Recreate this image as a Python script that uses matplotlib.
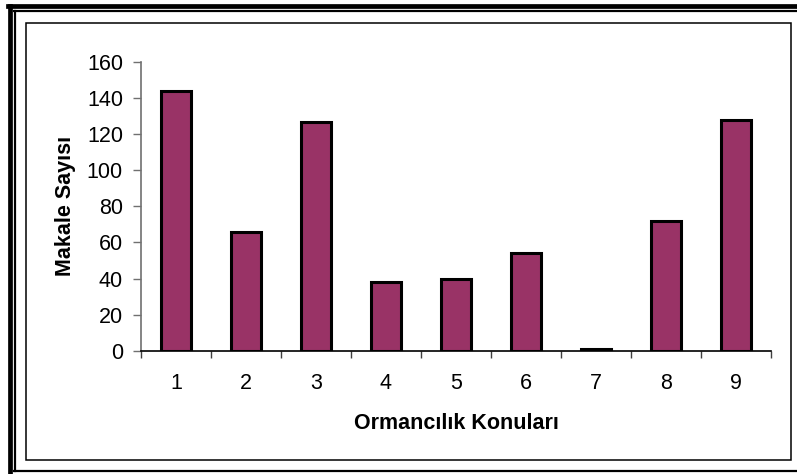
import matplotlib.pyplot as plt
from matplotlib.patches import Rectangle
from matplotlib.lines import Line2D
import numpy as np

# konu numaralari ve makale sayilari
konular = ["1", "2", "3", "4", "5", "6", "7", "8", "9"]
makale_sayisi = [144, 66, 127, 38, 40, 54, 1, 72, 128]
y_ticks = [0, 20, 40, 60, 80, 100, 120, 140, 160]

W, H = 797, 474
plt.rcParams['font.family'] = ['Liberation Sans', 'DejaVu Sans']

fig = plt.figure(figsize=(W / 100, H / 100), dpi=100)


def fx(px):
    return px / W


def fy(py):
    return 1 - py / H


# double frame round the chart
fig.add_artist(Line2D([fx(10), fx(10)], [fy(6), fy(480)], color="black", lw=3.4))
fig.add_artist(Line2D([fx(8), fx(800)], [fy(6), fy(6)], color="black", lw=3.4))
fig.add_artist(Line2D([fx(15), fx(15)], [fy(11), fy(471)], color="black", lw=1.6))
fig.add_artist(Line2D([fx(14), fx(800)], [fy(11), fy(11)], color="black", lw=1.6))
fig.add_artist(Line2D([fx(14), fx(800)], [fy(471), fy(471)], color="black", lw=1.6))
fig.add_artist(Rectangle((fx(26), fy(460)), fx(791 - 26), (460 - 22.7) / H,
                         fill=False, edgecolor="black", lw=1.1))

ax = fig.add_axes([fx(141), fy(350.7), fx(771 - 141), (350.7 - 62) / H])
x = np.arange(1, len(konular) + 1)
ax.bar(x, makale_sayisi, width=0.42, color="#993366", edgecolor="black", linewidth=2.2, zorder=3)

ax.set_xlim(0.5, len(konular) + 0.5)
ax.set_ylim(0, 160)
ax.set_yticks(y_ticks)
ax.set_yticklabels([str(v) for v in y_ticks], fontsize=15.5)
ax.set_xticks(x)
ax.set_xticklabels(konular, fontsize=15.5)
ax.set_xticks(np.arange(0.5, len(konular) + 1), minor=True)
ax.tick_params(axis="x", which="major", length=0, pad=16)
ax.tick_params(axis="x", which="minor", length=5, color="#404040", width=1)
ax.tick_params(axis="y", length=6, color="#707070", width=1, pad=7)

for s in ["top", "right"]:
    ax.spines[s].set_visible(False)
ax.spines["left"].set_color("#707070")
ax.spines["left"].set_linewidth(1.2)
ax.spines["bottom"].set_color("black")
ax.spines["bottom"].set_linewidth(1.2)

ax.set_ylabel("Makale Sayısı", fontsize=15.5, fontweight="bold", labelpad=7.5)
ax.set_xlabel("Ormancılık Konuları", fontsize=15.5, fontweight="bold", labelpad=14)

fig.savefig("out.png", dpi=100)
